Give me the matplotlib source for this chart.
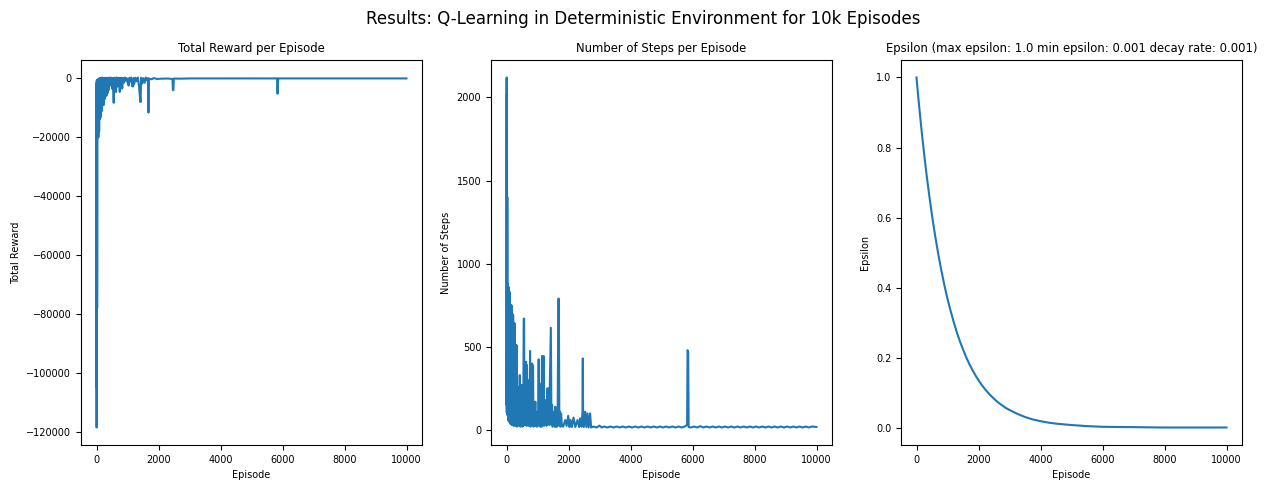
import matplotlib
matplotlib.use('Agg')
import matplotlib.pyplot as plt

# values
reward_episodes = [0, 4, 8, 12, 16, 20, 25, 30, 40, 50, 60, 70, 85, 100, 115, 130, 145, 160, 175, 190, 205, 220, 235, 250,
                   265, 280, 295, 310, 325, 340, 355, 370, 385, 400, 415, 430, 445, 460, 475, 490, 505, 520, 535, 550, 560, 575,
                   590, 610, 630, 650, 670, 690, 710, 730, 750, 770, 790, 810, 830, 850, 880, 910, 940, 970, 1000, 1030, 1045, 1060,
                   1090, 1120, 1150, 1185, 1200, 1215, 1250, 1290, 1330, 1370, 1415, 1425, 1435, 1470, 1510, 1550, 1590, 1630, 1665, 1675, 1685,
                   1720, 1780, 1850, 1950, 2100, 2300, 2450, 2465, 2480, 2495, 2700, 3000, 3500, 4000, 4500, 5000, 5500, 5825, 5835, 5845, 5860, 5875,
                   6200, 7000, 8000, 9000, 9999]
reward_values = [-2000, -118500, -800, -105000, -600, -78000, -51000, -500, -20000, -300, -20000, -200, -18000, 100, -13700, 200, -13000, 100, -11000, 300, -9200, 100, -9000, 200,
                 -7000, 100, -6000, 200, -5800, 100, -5000, 200, -4000, 100, -2400, 300, -2400, 100, -2000, 200, -3500, 100, -3000, -8250, -8250, 200,
                 -3000, 100, -4600, 300, -2800, 100, -2000, 200, -4600, 100, -3500, 200, -3400, 100, -1500, 300, -800, 100, -1200, -2400, -2400, 200,
                 -1000, 300, -2700, -2700, 100, -1800, 200, -1000, 300, -2500, -8000, -8000, 200, -1800, 100, -1500, 300, -700, 100, -11600, -600,
                 -100, -300, 100, -200, -100, -50, -200, -4000, -4000, -50, -100, -20, -10, -15, -10, -10, -20, -10, -5200, -5000, -40, -10,
                 -10, -10, -10, -10, -10]

steps_episodes = [0, 5, 10, 15, 20, 25, 30, 43, 50, 70, 80, 107, 118, 135, 145, 160, 172, 190, 200, 214, 228, 245, 257, 270,
                  282, 295, 310, 325, 340, 358, 372, 390, 402, 428, 442, 460, 475, 492, 506, 525, 540, 555, 567, 580, 600, 631, 645, 660,
                  675, 690, 705, 730, 745, 760, 775, 790, 813, 830, 856, 870, 885, 900, 915, 931, 950, 965, 980, 995, 1010, 1025, 1038, 1050, 1065, 1091, 1110, 1130, 1145, 1165,
                  1198, 1210, 1230, 1250, 1270, 1290, 1310, 1330, 1345, 1359, 1375, 1390, 1410, 1430, 1450, 1470, 1487, 1505, 1520, 1540, 1555, 1573, 1590, 1610, 1630, 1650, 1672, 1688, 1705, 1720, 1740, 1760, 1787, 1830, 1894, 1940, 1990,
                  2030, 2065, 2110, 2161, 2220, 2290, 2340, 2375, 2420, 2450, 2461, 2472, 2490, 2536, 2575, 2611, 2650, 2696, 2730, 2800, 2900, 3000, 3071, 3150,
                  3250, 3350, 3450, 3550, 3650, 3750, 3850, 3950, 4050, 4150, 4250, 4350, 4450, 4550, 4650, 4750, 4850, 4950, 5050, 5150,
                  5250, 5350, 5450, 5550, 5650, 5750, 5825, 5840, 5860, 5875, 5950, 6050, 6150, 6250, 6350, 6450, 6550, 6650, 6750, 6850,
                  6950, 7050, 7150, 7250, 7350, 7450, 7550, 7650, 7750, 7850, 7950, 8050, 8150, 8250, 8350, 8450, 8550, 8650, 8750, 8850,
                  8950, 9050, 9150, 9250, 9350, 9450, 9550, 9650, 9750, 9850, 9999]
steps_values = [110, 2120, 150, 2020, 95, 1400, 90, 880, 60, 860, 50, 830, 40, 750, 35, 750, 30, 700, 30, 690, 25, 640, 30, 640,
                25, 510, 25, 510, 20, 260, 30, 250, 25, 330, 20, 270, 30, 270, 20, 180, 25, 670, 670, 30, 60, 410, 25, 390,
                30, 300, 25, 200, 30, 475, 20, 130, 400, 30, 390, 20, 60, 25, 100, 170, 25, 90, 20, 110, 30, 130, 425, 25, 280, 20, 200, 20, 445, 30,
                445, 25, 120, 30, 180, 25, 250, 40, 120, 250, 30, 180, 400, 615, 30, 150, 20, 110, 25, 90, 20, 140, 20, 100, 20, 70, 790, 790, 25, 110, 20, 100, 25, 20, 60, 25, 85,
                18, 60, 18, 75, 18, 60, 18, 70, 20, 110, 430, 60, 18, 110, 18, 100, 15, 100, 15, 21, 15, 26, 15, 21,
                15, 21, 15, 21, 15, 21, 15, 21, 15, 21, 15, 21, 15, 21, 15, 21, 15, 21, 15, 21,
                15, 21, 15, 21, 15, 21, 30, 480, 470, 18, 15, 21, 15, 23, 15, 21, 15, 21, 15, 21,
                15, 21, 15, 21, 15, 21, 15, 21, 15, 21, 15, 21, 15, 21, 15, 21, 15, 21, 15, 21,
                15, 21, 15, 21, 15, 21, 15, 21, 15, 21, 18]

epsilon_episodes = [0, 50, 100, 150, 200, 250, 300, 350, 400, 450, 500, 550, 600, 700, 800, 900, 1000, 1100, 1200, 1300, 1400, 1500, 1600, 1700, 1800, 1900, 2000,
                    2125, 2250, 2375, 2500, 2625, 2750, 2875, 3000, 3250, 3500, 3750, 4000, 4250, 4500, 5000, 5500, 6000, 7000, 8000, 9000, 9999]
epsilon_values = [1.0, 0.951, 0.905, 0.861, 0.819, 0.779, 0.741, 0.705, 0.671, 0.638, 0.607, 0.577, 0.549, 0.497, 0.45, 0.407, 0.368, 0.334, 0.302, 0.273, 0.247, 0.224, 0.202, 0.183, 0.166, 0.15, 0.136,
                  0.12, 0.106, 0.094, 0.083, 0.073, 0.065, 0.057, 0.051, 0.04, 0.031, 0.024, 0.019, 0.015, 0.012, 0.008, 0.005, 0.003, 0.002, 0.001, 0.001, 0.001]

fig, axes = plt.subplots(1, 3, figsize=(12.67, 4.9), dpi=100)
plt.subplots_adjust(left=81 / 1267, right=1242 / 1267, top=1 - 60 / 490, bottom=1 - 445 / 490, wspace=69 / 341)

axes[0].plot(reward_episodes, reward_values)
axes[0].set_title('Total Reward per Episode', fontsize=8.4)
axes[0].set_xlabel('Episode', fontsize=7)
axes[0].set_ylabel('Total Reward', fontsize=7)

axes[1].plot(steps_episodes, steps_values)
axes[1].set_title('Number of Steps per Episode', fontsize=8.4)
axes[1].set_xlabel('Episode', fontsize=7)
axes[1].set_ylabel('Number of Steps', fontsize=7)

axes[2].plot(epsilon_episodes, epsilon_values)
axes[2].set_title('Epsilon (max epsilon: 1.0 min epsilon: 0.001 decay rate: 0.001)', fontsize=8.4)
axes[2].set_xlabel('Episode', fontsize=7)
axes[2].set_ylabel('Epsilon', fontsize=7)

for ax in axes:
    ax.tick_params(labelsize=7)

fig.suptitle('Results: Q-Learning in Deterministic Environment for 10k Episodes', fontsize=12, x=643 / 1267, y=1 - 18.5 / 490, va='center')
plt.savefig('out.png', dpi=100)
